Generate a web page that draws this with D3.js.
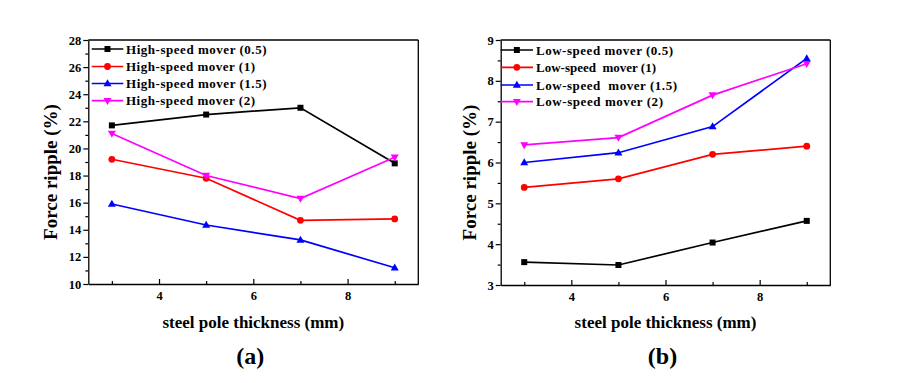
<!DOCTYPE html>
<html>
<head>
<meta charset="utf-8">
<script src="https://cdn.jsdelivr.net/npm/d3@7"></script>
</head>
<body style="margin:0">
<svg id="chart" width="900" height="383" style="display:block;background:#fff"></svg>
<script>
const thickness = [3, 5, 7, 9];

const highNames = ["High-speed mover (0.5)", "High-speed mover (1)", "High-speed mover (1.5)", "High-speed mover (2)"];
const high05 = [21.7, 22.5, 23.0, 18.9];
const high1  = [19.2, 17.8, 14.7, 14.8];
const high15 = [15.9, 14.35, 13.25, 11.2];
const high2  = [21.1, 18.0, 16.3, 19.35];

const lowNames = ["Low-speed mover (0.5)", "Low-speed  mover (1)", "Low-speed  mover (1.5)", "Low-speed mover (2)"];
const low05 = [3.56, 3.49, 4.04, 4.57];
const low1  = [5.39, 5.60, 6.20, 6.40];
const low15 = [6.00, 6.24, 6.88, 8.55];
const low2  = [6.43, 6.61, 7.65, 8.42];

const xTicks = [4, 6, 8];
const xMinor = [3, 5, 7, 9];
const highYTicks = [10, 12, 14, 16, 18, 20, 22, 24, 26, 28];
const highYMinor = [11, 13, 15, 17, 19, 21, 23, 25, 27];
const lowYTicks = [3, 4, 5, 6, 7, 8, 9];
const lowYMinor = [3.5, 4.5, 5.5, 6.5, 7.5, 8.5];

const colors = ["#000000", "#ff0000", "#0000ff", "#ff00ff"];
const markers = ["square", "circle", "up", "down"];

const svg = d3.select("#chart");

function styleText(sel, size) {
  return sel.style("font-family", '"Liberation Serif"').style("font-weight", "bold").style("font-size", size + "px").attr("fill", "#000");
}

function drawMarker(g, type, x, y, color) {
  if (type === "square") {
    g.append("rect").attr("x", x - 3).attr("y", y - 3).attr("width", 6).attr("height", 6).attr("fill", color);
  } else if (type === "circle") {
    g.append("circle").attr("cx", x).attr("cy", y).attr("r", 3.4).attr("fill", color);
  } else if (type === "up") {
    g.append("path").attr("d", `M${x},${y - 4.2}L${x + 4},${y + 2.8}L${x - 4},${y + 2.8}Z`).attr("fill", color);
  } else {
    g.append("path").attr("d", `M${x},${y + 4.2}L${x + 4},${y - 2.8}L${x - 4},${y - 2.8}Z`).attr("fill", color);
  }
}

function panel(opts) {
  const { left, right, top, bottom, yDomain, yTicks, yMinor, series, names, legend, label, yTitleX, legendWidths } = opts;
  const x = d3.scaleLinear().domain([2.5, 9.5]).range([left, right]);
  const y = d3.scaleLinear().domain(yDomain).range([bottom, top]);
  const g = svg.append("g");

  g.append("line").attr("x1", left).attr("x2", right).attr("y1", top).attr("y2", top).attr("stroke", "#000").attr("stroke-width", 1.3);
  g.append("line").attr("x1", right).attr("x2", right).attr("y1", top).attr("y2", bottom).attr("stroke", "#000").attr("stroke-width", 1.3);

  const xa = g.append("g").attr("transform", `translate(0,${bottom})`)
    .call(d3.axisBottom(x).tickValues(xTicks).tickSize(-5).tickPadding(7).tickSizeOuter(0).tickFormat(d3.format("d")));
  xa.attr("font-family", null);
  xa.selectAll("line").attr("stroke-width", 1.2);
  xa.select(".domain").attr("stroke-width", 1.3);
  styleText(xa.selectAll("text"), 12.5);
  g.append("g").attr("transform", `translate(0,${bottom})`)
    .call(d3.axisBottom(x).tickValues(xMinor).tickSize(-3).tickSizeOuter(0).tickFormat(""))
    .call(s => s.select(".domain").remove())
    .selectAll("line").attr("stroke-width", 1.2);

  const ya = g.append("g").attr("transform", `translate(${left},0)`)
    .call(d3.axisLeft(y).tickValues(yTicks).tickSize(5).tickPadding(2).tickSizeOuter(0).tickFormat(d3.format("d")));
  ya.attr("font-family", null);
  ya.selectAll("line").attr("stroke-width", 1.2);
  ya.select(".domain").attr("stroke-width", 1.3);
  styleText(ya.selectAll("text"), 12.5);
  g.append("g").attr("transform", `translate(${left},0)`)
    .call(d3.axisLeft(y).tickValues(yMinor).tickSize(3).tickSizeOuter(0).tickFormat(""))
    .call(s => s.select(".domain").remove())
    .selectAll("line").attr("stroke-width", 1.2);

  const line = d3.line().x((d, i) => x(thickness[i])).y(d => y(d));
  series.forEach((s, k) => {
    g.append("path").datum(s).attr("d", line).attr("fill", "none").attr("stroke", colors[k]).attr("stroke-width", 1.7);
    s.forEach((v, i) => drawMarker(g, markers[k], x(thickness[i]), y(v), colors[k]));
  });

  names.forEach((n, k) => {
    const cy = legend.rows[k];
    g.append("line").attr("x1", legend.x1).attr("x2", legend.x2).attr("y1", cy).attr("y2", cy)
      .attr("stroke", colors[k]).attr("stroke-width", 1.7);
    drawMarker(g, markers[k], (legend.x1 + legend.x2) / 2, cy, colors[k]);
    styleText(g.append("text").attr("x", legend.tx).attr("y", cy + 4.5), 13)
      .attr("textLength", legendWidths[k]).attr("lengthAdjust", "spacing")
      .attr("xml:space", "preserve").style("white-space", "pre").text(n);
  });

  styleText(g.append("text").attr("transform", `translate(${yTitleX},${(top + bottom) / 2 + 10}) rotate(-90)`)
    .attr("text-anchor", "middle"), 19).text("Force ripple (%)");
  styleText(g.append("text").attr("x", (left + right) / 2).attr("y", 328).attr("text-anchor", "middle"), 17)
    .text("steel pole thickness (mm)");
  styleText(g.append("text").attr("x", (left + right) / 2 - 3).attr("y", 364).attr("text-anchor", "middle"), 24)
    .text(label);
}

panel({
  left: 88.3, right: 418.3, top: 40, bottom: 284,
  yDomain: [10, 28], yTicks: highYTicks, yMinor: highYMinor,
  series: [high05, high1, high15, high2], names: highNames,
  legend: { x1: 91.7, x2: 123.3, tx: 126, rows: [49, 66.5, 83.5, 100.7] },
  legendWidths: [140.5, 129, 140.5, 129],
  label: "(a)", yTitleX: 57
});

panel({
  left: 500.7, right: 830.3, top: 40, bottom: 285,
  yDomain: [3, 9], yTicks: lowYTicks, yMinor: lowYMinor,
  series: [low05, low1, low15, low2], names: lowNames,
  legend: { x1: 500.7, x2: 533, tx: 536, rows: [50, 67.3, 85, 101.7] },
  legendWidths: [137, 120, 141, 127],
  label: "(b)", yTitleX: 476
});
</script>
</body>
</html>
